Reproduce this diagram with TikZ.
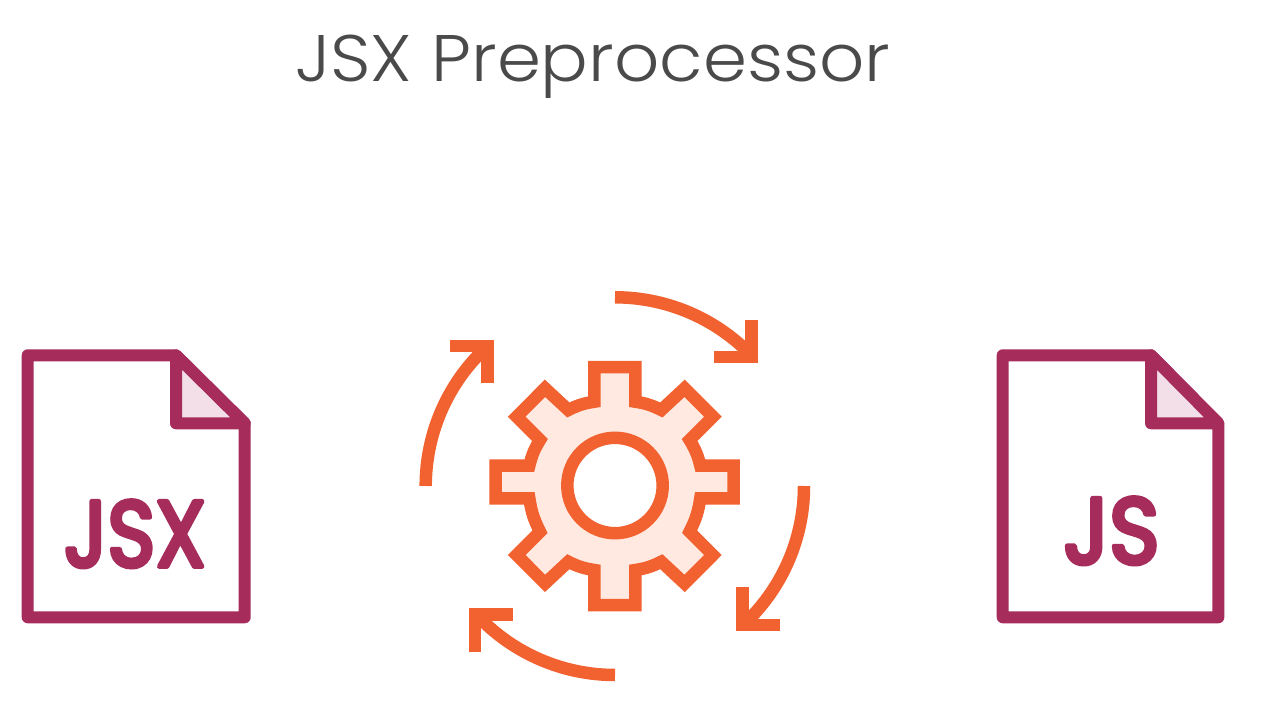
\documentclass[tikz,border=0pt]{standalone}
\usepackage{fontspec}
\setmainfont{Poppins}[UprightFont=* Light]
\newfontfamily\iconfont{Poppins}[UprightFont=* Regular,FakeBold=5,AutoFakeBold=false]
\definecolor{gearline}{HTML}{F26130}
\definecolor{gearfill}{HTML}{FFE9E1}
\definecolor{docline}{HTML}{A62C5C}
\definecolor{docfill}{HTML}{F3DFE7}
\definecolor{titlegrey}{HTML}{4A4A4A}
\tikzset{
  x=1pt,y=1pt,
  docshape/.style={draw=docline,line width=12pt,line join=round,fill=white},
  foldshape/.style={draw=docline,line width=12pt,line join=round,fill=docfill},
  gearshape/.style={draw=gearline,line width=12.5pt,line join=miter,miter limit=10,fill=gearfill},
  holeshape/.style={draw=gearline,line width=12.5pt,fill=white},
  cyclearrow/.style={draw=gearline,line width=12.5pt,line cap=butt,line join=miter,miter limit=10},
  icontext/.style={text=docline,inner sep=0pt,outer sep=0pt,anchor=base},
  rootarc/.style={bend left=9},
}
\newcommand{\docicon}[2]{%
  \draw[docshape] (#1,-355.3) -- (#1+148.3,-355.3) -- (#2,-423.3) -- (#2,-617.3) -- (#1,-617.3) -- cycle;
  \draw[foldshape] (#1+148.3,-355.3) -- (#1+148.3,-423.3) -- (#2,-423.3) -- cycle;
}
\begin{document}
\begin{tikzpicture}
\useasboundingbox (0,0) rectangle (1277,-711);
\fill[white] (0,0) rectangle (1277,-711);
% title
\node[text=titlegrey,inner sep=0pt,outer sep=0pt,anchor=base west] (title) at (295,-81.7)
  {\resizebox{595pt}{46.5pt}{JSX Preprocessor}};
% documents
\docicon{27.7}{244.7}
\docicon{1002.7}{1218.3}
\node[icontext] (jsx) at (135,-566.5) {\special{pdf:code 1 j 1 J}\resizebox{142pt}{66pt}{\iconfont JSX}};
\node[icontext] (js) at (1111.5,-563.5) {\special{pdf:code 1 j 1 J}\resizebox{96pt}{66pt}{\iconfont JS}};
% gear
\draw[gearshape] (495.7,-465.7) -- (529.3,-465.7) to[rootarc] (540,-440)
  -- (516.7,-416.7) -- (545,-388.3) -- (568.3,-410) to[rootarc] (594.3,-401.7)
  -- (594.3,-367) -- (635.3,-367) -- (635.3,-401.7) to[rootarc] (661.3,-410)
  -- (684.6,-388.3) -- (712.9,-416.7) -- (689.6,-440) to[rootarc] (700.3,-465.7)
  -- (733.7,-465.7) -- (733.7,-498.3) -- (700.3,-498.3) to[rootarc] (689.6,-531.7)
  -- (712.9,-555) -- (684.6,-583.4) -- (661.3,-561.7) to[rootarc] (635.3,-570)
  -- (635.3,-605) -- (594.3,-605) -- (594.3,-570) to[rootarc] (568.3,-561.7)
  -- (545,-583.4) -- (516.7,-555) -- (540,-531.7) to[rootarc] (529.3,-498.3)
  -- (495.7,-498.3) -- cycle;
\draw[holeshape] (615,-485.5) circle[radius=47.7];
% cycle arrows
\draw[cyclearrow] (615,-297.3) arc[start angle=90,end angle=46,radius=189] -- (751.3,-357);
\draw[cyclearrow] (751.3,-320) -- (751.3,-357) -- (714,-357);
\draw[cyclearrow] (804,-486) arc[start angle=0,end angle=-44,radius=189] -- (742.7,-625);
\draw[cyclearrow] (780.3,-625) -- (742.7,-625) -- (742.7,-587.3);
\draw[cyclearrow] (615,-675) arc[start angle=270,end angle=226,radius=189] -- (475,-614.7);
\draw[cyclearrow] (475,-652.3) -- (475,-614.7) -- (512.7,-614.7);
\draw[cyclearrow] (425.7,-486) arc[start angle=180,end angle=136,radius=189] -- (487.3,-346);
\draw[cyclearrow] (450,-346) -- (487.3,-346) -- (487.3,-383.3);
\end{tikzpicture}
\end{document}
